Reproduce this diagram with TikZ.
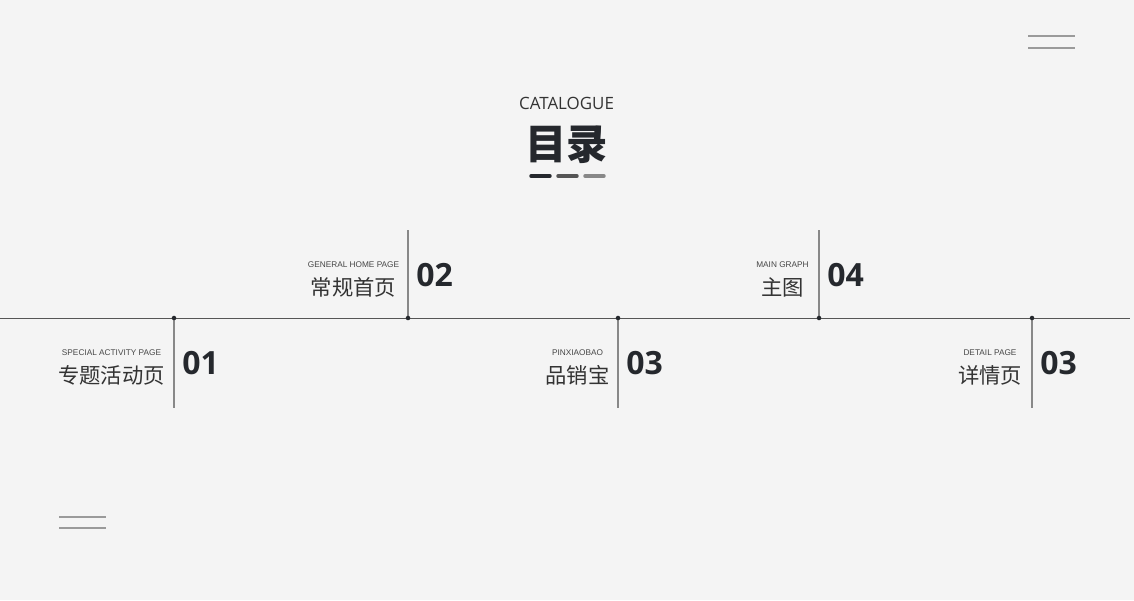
\documentclass[tikz,border=0pt]{standalone}
\usepackage{fontspec}
\setmainfont{Liberation Sans}
\newfontfamily\cjkfont{Noto Sans CJK SC}
\newfontfamily\numfont{Open Sans}
\usetikzlibrary{positioning}
\definecolor{catBg}{HTML}{F4F4F4}
\definecolor{catLine}{HTML}{555555}
\definecolor{catTick}{HTML}{888888}
\definecolor{catDeco}{HTML}{9A9A9A}
\definecolor{catText}{HTML}{333333}
\definecolor{catDark}{HTML}{25282D}
\tikzset{
  timeline/.style={draw=catLine, line width=0.75pt},
  tickline/.style={draw=catTick, line width=0.8pt},
  decoline/.style={draw=catDeco, line width=0.9pt},
  dashbar/.style={line width=2.6pt, line cap=round},
  englabel/.style={anchor=base, inner sep=0pt, text=catText!90, font=\fontsize{6.2}{7}\selectfont},
  cnlabel/.style={anchor=base, inner sep=0pt, text=catText, font=\cjkfont\fontsize{16}{19}\selectfont},
  numlabel/.style={anchor=base west, inner sep=0pt, text=catDark, font=\numfont\bfseries\fontsize{24}{28}\selectfont},
}

\begin{document}
\begin{tikzpicture}[x=0.75pt, y=-0.75pt]
  \fill[catBg] (0,0) rectangle (1134,600);
  \useasboundingbox (0,0) rectangle (1134,600);

  % title
  \node[inner sep=0pt, anchor=base, text=catText, font=\numfont\fontsize{12.7}{15}\selectfont] (cat) at (566.5,109) {CATALOGUE};
  \node[inner sep=0pt, anchor=base, text=catDark, font=\cjkfont\bfseries\fontsize{31}{35}\selectfont] (title) at (566.5,159) {目录};
  \coordinate (u1a) at (531,176); \coordinate (u1b) at (550,176);
  \coordinate (u2a) at (558,176); \coordinate (u2b) at (577,176);
  \coordinate (u3a) at (585,176); \coordinate (u3b) at (604,176);
  \draw[dashbar, catDark] (u1a) -- (u1b);
  \draw[dashbar, catLine] (u2a) -- (u2b);
  \draw[dashbar, catTick] (u3a) -- (u3b);

  % corner strokes
  \coordinate (tr1) at (1028,36); \coordinate (tr2) at (1075,36);
  \coordinate (tr3) at (1028,48); \coordinate (tr4) at (1075,48);
  \coordinate (bl1) at (59,517); \coordinate (bl2) at (106,517);
  \coordinate (bl3) at (59,528); \coordinate (bl4) at (106,528);
  \draw[decoline] (tr1) -- (tr2);
  \draw[decoline] (tr3) -- (tr4);
  \draw[decoline] (bl1) -- (bl2);
  \draw[decoline] (bl3) -- (bl4);

  % timeline
  \coordinate (left) at (0,318);
  \coordinate (right) at (1130,318);
  \draw[timeline] (left) -- (right);

  \foreach \x/\yend/\ytop/\cx/\eng/\cn/\num [count=\i] in {
      174/408/318/111.5/SPECIAL ACTIVITY PAGE/专题活动页/01,
      408/230/230/353.5/GENERAL HOME PAGE/常规首页/02,
      618/408/318/577.5/PINXIAOBAO/品销宝/03,
      819/230/230/782.5/MAIN GRAPH/主图/04,
      1032/408/318/990/DETAIL PAGE/详情页/03}{
    \coordinate (d\i) at (\x,318);
    \coordinate (v\i) at (\x,\yend);
    \draw[tickline] (d\i) -- (v\i);
    \fill[catDark] (d\i) circle[radius=1.7pt];
    \node[englabel] (e\i) at (\cx,\ytop+37) {\eng};
    \node[cnlabel] (c\i) at (\cx,\ytop+65) {\cn};
    \node[numlabel] (n\i) at (\x+8,\ytop+56) {\num};
  }
\end{tikzpicture}
\end{document}
